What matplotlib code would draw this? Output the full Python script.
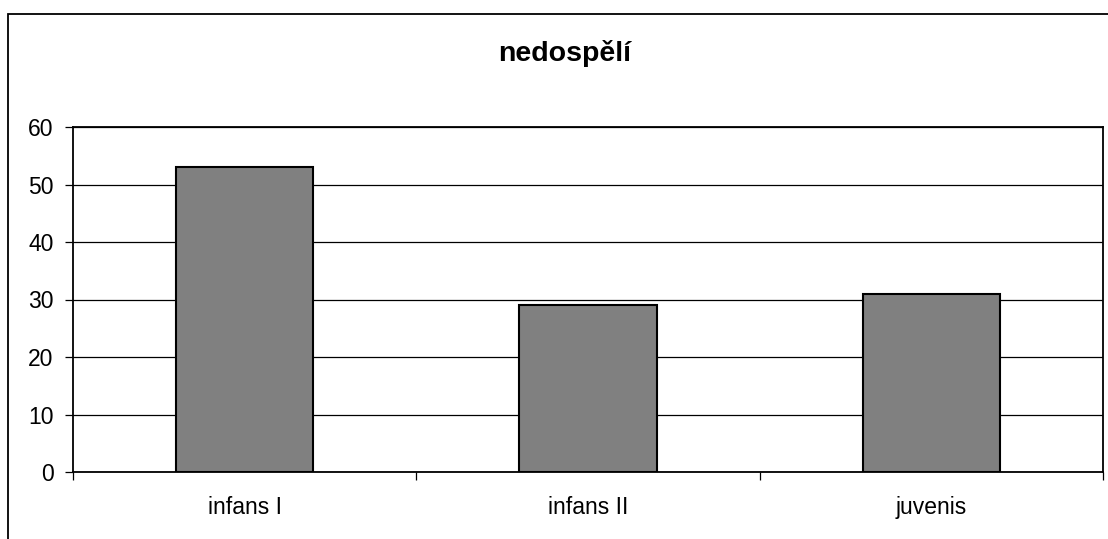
import matplotlib
matplotlib.use("Agg")
import matplotlib.pyplot as plt
from matplotlib.patches import Rectangle

categories = ["infans I", "infans II", "juvenis"]
values = [53, 29, 31]
yticks = [0, 10, 20, 30, 40, 50, 60]
title = "nedospělí"

plt.rcParams['font.family'] = ['Liberation Sans', 'DejaVu Sans']

W, H = 1108, 539
fig = plt.figure(figsize=(W/100, H/100), dpi=100)
ax = fig.add_axes([73/W, 1-472/H, (1103-73)/W, (472-127)/H])

x = list(range(len(categories)))
ax.bar(x, values, width=0.4, color="#808080", edgecolor="black", linewidth=1.5, zorder=3)
ax.set_xlim(-0.5, len(categories)-0.5)
ax.set_ylim(0, 60)
ax.set_yticks(yticks)
ax.set_yticklabels([str(v) for v in yticks], fontsize=16.5)
ax.yaxis.grid(True, color="black", linewidth=0.9, zorder=0)
ax.set_axisbelow(True)

ax.set_xticks([i - 0.5 for i in range(len(categories)+1)], minor=False)
ax.set_xticklabels([])
ax.set_xticks(x, minor=True)
ax.set_xticklabels(categories, minor=True, fontsize=16.5)
ax.tick_params(axis='x', which='major', length=6, width=0.9, direction='out')
ax.tick_params(axis='x', which='minor', length=0, pad=17)
ax.tick_params(axis='y', length=6, width=0.9, direction='out', pad=8)
for s in ax.spines.values():
    s.set_linewidth(1.3)
    s.set_color("black")

fig.text(565/W, 1-61/H, title, ha='center', va='baseline', fontsize=20.5, fontweight='bold')

fig.patches.append(Rectangle((8/W, -0.1), 1.2, 1-14/H+0.1, transform=fig.transFigure,
                             fill=False, edgecolor='black', linewidth=1.3, figure=fig))

fig.savefig("out.png", dpi=100)
